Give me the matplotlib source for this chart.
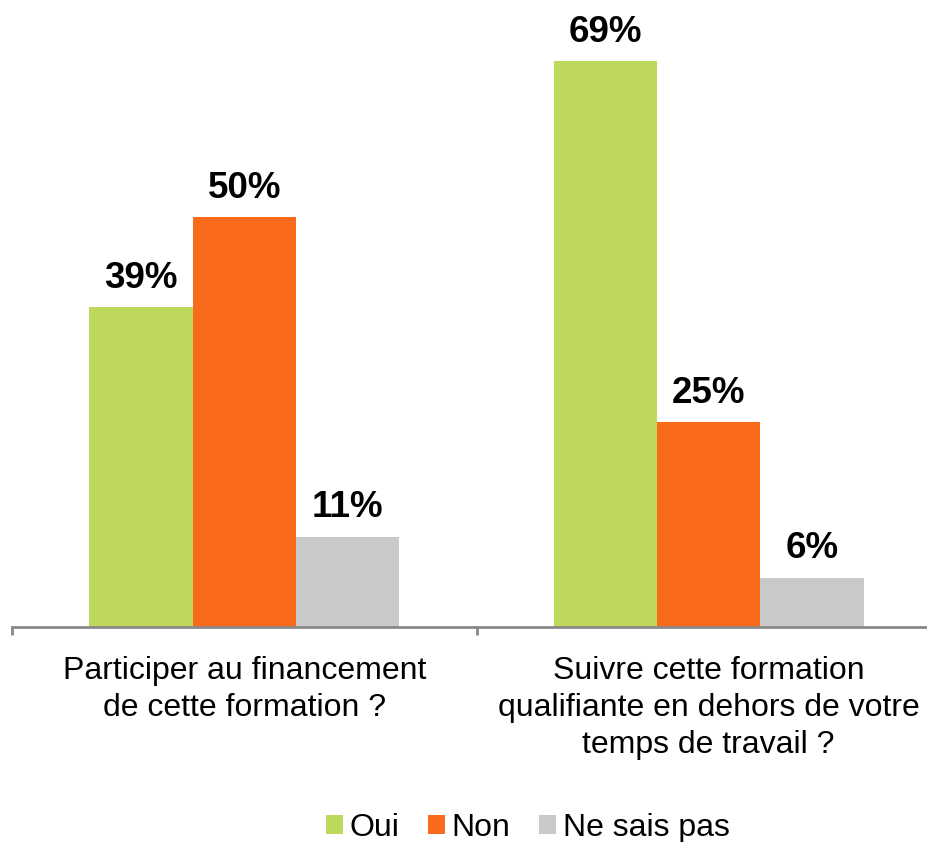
import matplotlib
matplotlib.use("Agg")
import matplotlib.pyplot as plt
from matplotlib.patches import Patch
import numpy as np

categories = ["Participer au financement\nde cette formation ?",
              "Suivre cette formation\nqualifiante en dehors de votre\ntemps de travail ?"]
series_names = ["Oui", "Non", "Ne sais pas"]
oui = [39, 69]
non = [50, 25]
nsp = [11, 6]
colors = ["#BED85B", "#F96A1A", "#C9C9C9"]

plt.rcParams['font.family'] = ['Liberation Sans', 'DejaVu Sans']

W, H = 928, 842
fig = plt.figure(figsize=(W / 100, H / 100), dpi=100)
ax_left, ax_right = 12, 941
base_y, top_y = 627, 627 - 75 * 8.2
ax = fig.add_axes([ax_left / W, (H - base_y) / H, (ax_right - ax_left) / W, (base_y - top_y) / H])

x = np.arange(len(categories))
bw = 0.2228
for i, (vals, col) in enumerate(zip([oui, non, nsp], colors)):
    pos = x + (i - 1) * bw
    ax.bar(pos, vals, width=bw, color=col, zorder=2)
    for p, v in zip(pos, vals):
        ax.text(p, v + 1.4, f"{v}%", ha="center", va="bottom", fontsize=26.5,
                fontweight="bold", color="black")

ax.set_xlim(-0.5, 1.5)
ax.set_ylim(0, 75)
for s in ["top", "right", "left"]:
    ax.spines[s].set_visible(False)
ax.spines["bottom"].set_color("#898989")
ax.spines["bottom"].set_linewidth(2)
ax.set_yticks([])
ax.set_xticks([-0.5, 0.5, 1.5])
ax.set_xticklabels([])
ax.tick_params(axis="x", which="major", length=6, width=2, color="#898989", direction="out")
ax.set_xticks(x, minor=True)
ax.set_xticklabels(categories, minor=True, fontsize=23, linespacing=1.3)
ax.tick_params(axis="x", which="minor", length=0, pad=21)

handles = [Patch(facecolor=c, edgecolor="none") for c in colors]
fig.legend(handles, series_names, loc="center", bbox_to_anchor=(528 / W, (H - 828) / H),
           ncol=3, frameon=False, fontsize=23, handlelength=0.53, handleheight=0.53,
           handletextpad=0.2, columnspacing=0.9, borderpad=0, borderaxespad=0)

fig.savefig("out.png", dpi=100)
